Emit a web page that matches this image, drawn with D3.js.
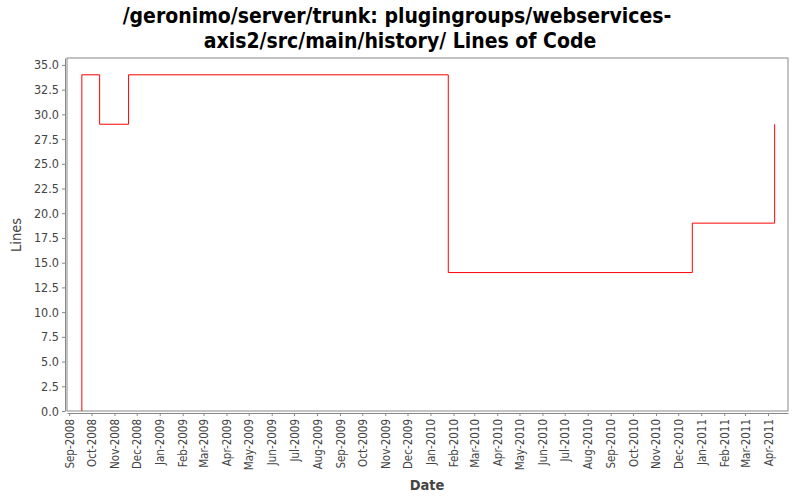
<!DOCTYPE html>
<html><head><meta charset="utf-8">
<script src="https://cdn.jsdelivr.net/npm/d3@7"></script>
<style>body{margin:0;background:#fff;}svg{display:block;font-family:"DejaVu Sans Condensed","DejaVu Sans",sans-serif;}</style>
</head><body><svg id="c" width="800" height="500"></svg>
<script>
const titleLines = ["/geronimo/server/trunk: plugingroups/webservices-", "axis2/src/main/history/ Lines of Code"];
const dates = ["2008-09-18","2008-09-18","2008-10-12","2008-11-20","2010-01-25","2010-12-20","2011-04-10","2011-04-10"];
const values = [0,34,29,34,14,19,19,29];
const yTicks = [0,2.5,5,7.5,10,12.5,15,17.5,20,22.5,25,27.5,30,32.5,35];
const xDomain = ["2008-08-29","2011-04-28"];

const FONT = '"DejaVu Sans Condensed","DejaVu Sans",sans-serif';
const parse = d3.timeParse("%Y-%m-%d");
const data = dates.map((d,i)=>({t:parse(d), v:values[i]}));
const svg = d3.select("#c");
const m = {l:67, r:788, t:58, b:411};
const x = d3.scaleTime().domain(xDomain.map(parse)).range([m.l, m.r]);
const y = d3.scaleLinear().domain([0, 35.7]).range([m.b, m.t]);

svg.append("rect").attr("x",0).attr("y",0).attr("width",800).attr("height",500).attr("fill","#fff");
svg.append("rect").attr("x",m.l).attr("y",m.t).attr("width",m.r-m.l).attr("height",m.b-m.t)
  .attr("fill","#fff").attr("stroke","#888").attr("stroke-width",1);

const t = svg.append("text").attr("text-anchor","middle").attr("font-weight","bold").attr("font-size",21)
  .attr("fill","#000").attr("font-family",FONT);
titleLines.forEach((s,i)=>t.append("tspan").attr("x",i===0?397:400).attr("y",23+i*25).text(s));

const ya = svg.append("g").attr("transform",`translate(${m.l-2},0)`)
  .call(d3.axisLeft(y).tickValues(yTicks).tickFormat(d3.format(".1f")).tickSize(3).tickSizeOuter(0));
ya.select(".domain").attr("stroke","#888");
ya.selectAll(".tick line").attr("stroke","#888");
ya.selectAll("text").attr("font-size",12.5).attr("fill","#444").attr("font-family",FONT);

const months = d3.timeMonth.range(parse("2008-09-01"), parse("2011-04-02"));
const xa = svg.append("g").attr("transform",`translate(0,${m.b+2})`)
  .call(d3.axisBottom(x).tickValues(months).tickFormat(d3.timeFormat("%b-%Y")).tickSize(3).tickSizeOuter(0));
xa.select(".domain").attr("stroke","#888");
xa.selectAll(".tick line").attr("stroke","#888");
xa.selectAll("text").attr("font-size",11.5).attr("fill","#444").attr("font-family",FONT)
  .attr("transform","rotate(-90)").attr("text-anchor","end").attr("x",-6).attr("y",0).attr("dy","0.35em");

svg.append("text").attr("x",427).attr("y",490).attr("text-anchor","middle").attr("font-weight","bold")
  .attr("font-size",14.5).attr("fill","#444").attr("font-family",FONT).text("Date");
svg.append("text").attr("transform","translate(21,235) rotate(-90)").attr("text-anchor","middle")
  .attr("font-size",14.5).attr("fill","#444").attr("font-family",FONT).text("Lines");

const line = d3.line().x(d=>x(d.t)).y(d=>y(d.v)).curve(d3.curveStepAfter);
svg.append("path").datum(data).attr("d",line).attr("fill","none").attr("stroke","#ff0000").attr("stroke-width",1);
</script></body></html>
